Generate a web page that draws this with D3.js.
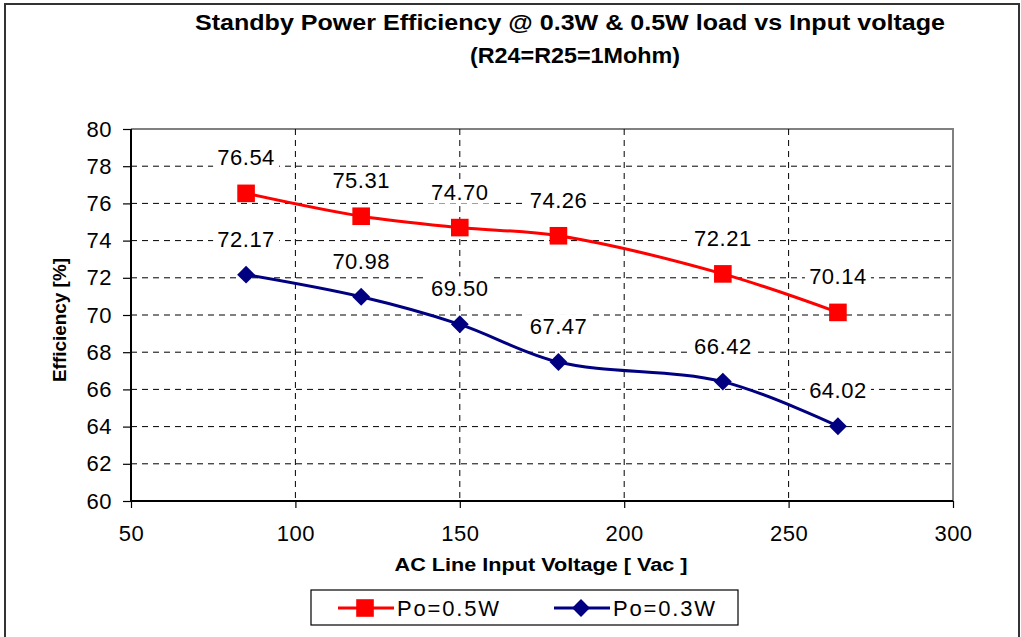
<!DOCTYPE html>
<html>
<head>
<meta charset="utf-8">
<script src="https://cdn.jsdelivr.net/npm/d3@7"></script>
<style>
  body { margin: 0; background: #fff; }
  svg text { font-family: "Liberation Sans", Arial, sans-serif; }
</style>
</head>
<body>
<div class="chart"></div>
<script>
const voltages = [85, 120, 150, 180, 230, 265];
const eff05 = [76.54, 75.31, 74.70, 74.26, 72.21, 70.14];
const eff03 = [72.17, 70.98, 69.50, 67.47, 66.42, 64.02];
const seriesNames = ['Po=0.5W', 'Po=0.3W'];
const xTicks = [50, 100, 150, 200, 250, 300];
const yTicks = [60, 62, 64, 66, 68, 70, 72, 74, 76, 78, 80];

const width = 1021;
const height = 637;
const plot = { left: 131, right: 953, top: 129, bottom: 501 };

drawChart();

function drawChart() {
  const svg = d3.select('.chart')
    .append('svg')
    .attr('width', width)
    .attr('height', height);

  // outer frame
  svg.append('rect')
    .attr('x', 5).attr('y', 4)
    .attr('width', 1014).attr('height', 660)
    .attr('fill', 'none')
    .attr('stroke', '#333')
    .attr('stroke-width', 2);

  const xScale = d3.scaleLinear().domain([50, 300]).range([plot.left, plot.right]);
  const yScale = d3.scaleLinear().domain([60, 80]).range([plot.bottom, plot.top]);

  // plot frame top/right in grey
  svg.append('path')
    .attr('d', `M${plot.left},${plot.top}H${plot.right}V${plot.bottom}`)
    .attr('fill', 'none')
    .attr('stroke', '#808080')
    .attr('stroke-width', 2);

  // grid
  svg.append('g').selectAll('line')
    .data(yTicks.filter(d => d > 60 && d < 80))
    .enter().append('line')
    .attr('x1', plot.left).attr('x2', plot.right)
    .attr('y1', d => yScale(d)).attr('y2', d => yScale(d))
    .attr('stroke', '#000').attr('stroke-width', 1)
    .attr('stroke-dasharray', '6,5');

  svg.append('g').selectAll('line')
    .data(xTicks.filter(d => d > 50 && d < 300))
    .enter().append('line')
    .attr('x1', d => xScale(d)).attr('x2', d => xScale(d))
    .attr('y1', plot.top).attr('y2', plot.bottom)
    .attr('stroke', '#000').attr('stroke-width', 1)
    .attr('stroke-dasharray', '6,5');

  const xAxis = d3.axisBottom(xScale).tickValues(xTicks).tickSize(7).tickPadding(17);
  const yAxis = d3.axisLeft(yScale).tickValues(yTicks).tickSize(8).tickPadding(11);

  const gx = svg.append('g')
    .attr('transform', `translate(0, ${plot.bottom})`)
    .call(xAxis);
  const gy = svg.append('g')
    .attr('transform', `translate(${plot.left}, 0)`)
    .call(yAxis);

  [gx, gy].forEach(g => {
    g.select('.domain').attr('stroke', '#000').attr('stroke-width', 2);
    g.selectAll('.tick line').attr('stroke', '#000').attr('stroke-width', 1.2);
    g.selectAll('.tick text')
      .attr('fill', '#000')
      .style('font-size', '22px')
      .style('letter-spacing', '0.5px')
      .style('font-family', '"Liberation Sans", Arial, sans-serif');
  });
  gx.select('.domain').attr('d', `M${plot.left},0H${plot.right}`);
  gy.select('.domain').attr('d', `M0,${plot.top}V${plot.bottom}`);
  gx.selectAll('.tick text').attr('dy', '0.71em');

  // titles
  svg.append('text')
    .attr('x', 570).attr('y', 30)
    .attr('text-anchor', 'middle')
    .attr('textLength', 750)
    .attr('lengthAdjust', 'spacingAndGlyphs')
    .style('font-size', '22px').style('font-weight', 'bold')
    .text('Standby Power Efficiency @ 0.3W & 0.5W load vs Input voltage');
  svg.append('text')
    .attr('x', 575).attr('y', 63)
    .attr('text-anchor', 'middle')
    .attr('textLength', 210)
    .attr('lengthAdjust', 'spacingAndGlyphs')
    .style('font-size', '22px').style('font-weight', 'bold')
    .text('(R24=R25=1Mohm)');

  svg.append('text')
    .attr('x', 541).attr('y', 571)
    .attr('text-anchor', 'middle')
    .attr('textLength', 293)
    .attr('lengthAdjust', 'spacingAndGlyphs')
    .style('font-size', '18px').style('font-weight', 'bold')
    .text('AC Line Input Voltage [ Vac ]');

  svg.append('text')
    .attr('transform', 'rotate(-90)')
    .attr('x', -320).attr('y', 66)
    .attr('text-anchor', 'middle')
    .attr('textLength', 124)
    .attr('lengthAdjust', 'spacingAndGlyphs')
    .style('font-size', '18px').style('font-weight', 'bold')
    .text('Efficiency [%]');

  const series = [
    { name: seriesNames[0], values: eff05, color: '#ff0000', size: 310, rotate: 0 },
    { name: seriesNames[1], values: eff03, color: '#000080', size: 160, rotate: 45 }
  ];

  const line = d3.line()
    .x((d, i) => xScale(voltages[i]))
    .y(d => yScale(d))
    .curve(d3.curveCatmullRom.alpha(0.5));

  series.forEach(s => {
    svg.append('path')
      .attr('d', line(s.values))
      .attr('fill', 'none')
      .attr('stroke', s.color)
      .attr('stroke-width', 3);

    svg.append('g').selectAll('path')
      .data(s.values)
      .enter().append('path')
      .attr('transform', (d, i) => `translate(${xScale(voltages[i])}, ${yScale(d)}) rotate(${s.rotate})`)
      .attr('d', d3.symbol().type(d3.symbolSquare).size(s.size))
      .attr('fill', s.color);
  });

  // data labels with white boxes
  series.forEach(s => {
    const lg = svg.append('g').selectAll('g')
      .data(s.values)
      .enter().append('g')
      .attr('transform', (d, i) => `translate(${xScale(voltages[i])}, ${yScale(d) - 36})`);
    lg.append('rect')
      .attr('x', -33).attr('y', -12)
      .attr('width', 66).attr('height', 24)
      .attr('fill', '#fff');
    lg.append('text')
      .attr('text-anchor', 'middle')
      .attr('dy', '0.36em')
      .style('font-size', '22px')
      .style('letter-spacing', '0.5px')
      .text(d => d.toFixed(2));
  });

  // legend
  const legend = svg.append('g');
  legend.append('rect')
    .attr('x', 311).attr('y', 590)
    .attr('width', 427).attr('height', 35)
    .attr('fill', '#fff')
    .attr('stroke', '#000')
    .attr('stroke-width', 1.2);

  const legendX = [338, 554];
  series.forEach((s, i) => {
    const x0 = legendX[i];
    legend.append('line')
      .attr('x1', x0).attr('x2', x0 + 56)
      .attr('y1', 608).attr('y2', 608)
      .attr('stroke', s.color).attr('stroke-width', 3);
    legend.append('path')
      .attr('transform', `translate(${x0 + 27}, 608) rotate(${s.rotate})`)
      .attr('d', d3.symbol().type(d3.symbolSquare).size(s.size))
      .attr('fill', s.color);
    legend.append('text')
      .attr('x', x0 + 59).attr('y', 608)
      .attr('dy', '0.36em')
      .attr('textLength', 102)
      .style('font-size', '22px')
      .text(s.name);
  });
}
</script>
</body>
</html>
